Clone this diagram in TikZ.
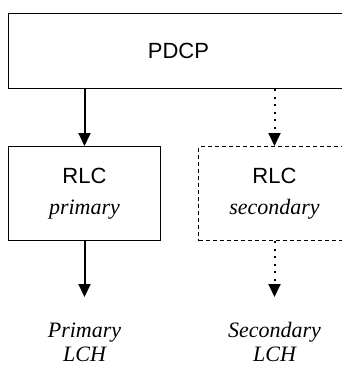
\documentclass[tikz,border=0pt]{standalone}
\usepackage{fontspec}
\setmainfont{Liberation Serif}
\setsansfont{Liberation Sans}
\usetikzlibrary{positioning, arrows.meta}

\begin{document}
\begin{tikzpicture}[
  x=1pt, y=1pt,
  box/.style={draw, line width=1pt, inner sep=0pt, align=center,
              font=\sffamily\fontsize{22}{24}\selectfont},
  lab/.style={inner sep=0pt, align=center,
              font=\itshape\fontsize{22}{24}\selectfont},
  arr/.style={-{Triangle[width=12pt, length=13pt]}, line width=2pt},
  dotarr/.style={arr, dash pattern=on 2pt off 5.5pt}
]
\useasboundingbox (0,0) rectangle (342,-367);
\node[box, minimum width=340pt, minimum height=75pt, anchor=north west]
  (pdcp) at (8,-13) {PDCP};
\node[box, minimum width=152pt, minimum height=94pt,
      below=57pt of pdcp.south west, anchor=north west] (rlcp)
  {RLC\\[7pt]{\rmfamily\itshape primary}};
\node[box, minimum width=152pt, minimum height=94pt, right=37pt of rlcp,
      dash pattern=on 4pt off 3pt] (rlcs)
  {RLC\\[7pt]{\rmfamily\itshape secondary}};
\node[lab, below=79pt of rlcp] (lchp) {\strut Primary\\LCH};
\node[lab, below=79pt of rlcs] (lchs) {\strut Secondary\\LCH};
\draw[arr] (pdcp.south -| rlcp) -- (rlcp);
\draw[dotarr] (pdcp.south -| rlcs) -- (rlcs);
\draw[arr, shorten >=23pt] (rlcp) -- (lchp);
\draw[dotarr, shorten >=23pt] (rlcs) -- (lchs);
\end{tikzpicture}
\end{document}
